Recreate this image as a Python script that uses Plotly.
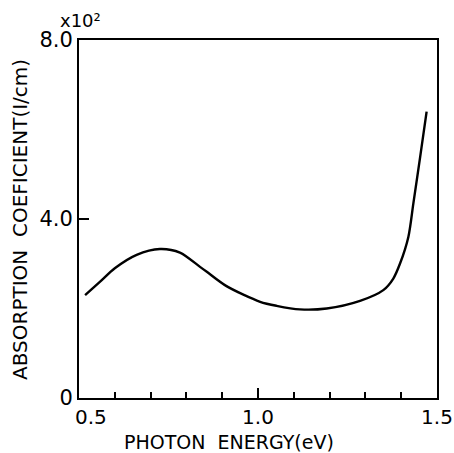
import plotly.graph_objects as go

energy = [0.517, 0.559, 0.600, 0.661, 0.726, 0.782, 0.838, 0.857, 0.912, 1.006, 1.052,
          1.117, 1.192, 1.285, 1.350, 1.378, 1.397, 1.420, 1.434, 1.453, 1.471]
absorption = [2.30, 2.60, 2.90, 3.20, 3.33, 3.25, 2.93, 2.82, 2.50, 2.15, 2.06,
              1.98, 2.00, 2.17, 2.41, 2.67, 3.01, 3.60, 4.35, 5.39, 6.40]
x_ticks = [0.5, 1.0, 1.5]
x_labels = ["0.5", "1.0", "1.5"]
y_ticks = [0, 4, 8]
y_labels = ["0", "4.0", "8.0"]

font = "DejaVu Sans"
L, R, T, B = 79, 437, 40, 398
W, H = 454, 453
fig = go.Figure()
fig.add_trace(go.Scatter(x=energy, y=absorption, mode="lines",
                         line=dict(color="black", width=2.4, shape="spline", smoothing=0.8),
                         showlegend=False, hoverinfo="skip"))


def px(xp):
    return (xp - L) / (R - L)


def py(yp):
    return (B - yp) / (B - T)


# first x label is drawn offset to the right of its tick, as in the original
axis_labels = [""] + x_labels[1:]

fig.update_layout(
    width=W, height=H,
    margin=dict(l=L, r=W - R, t=T, b=H - B, autoexpand=False),
    paper_bgcolor="white", plot_bgcolor="white",
    font=dict(family=font, color="black"),
    xaxis=dict(range=[0.5, 1.5], tickmode="array", tickvals=x_ticks, ticktext=axis_labels,
               ticks="inside", ticklen=10, tickwidth=2, tickcolor="black",
               minor=dict(tickmode="linear", tick0=0.5, dtick=0.1, ticks="inside",
                          ticklen=6, tickwidth=1.5, tickcolor="black", showgrid=False),
               showline=True, linecolor="black", linewidth=2, mirror=True,
               showgrid=False, zeroline=False, automargin=False,
               tickfont=dict(size=20, family=font), fixedrange=True),
    yaxis=dict(range=[0, 8], tickvals=y_ticks, ticktext=y_labels,
               ticks="inside", ticklen=10, tickwidth=2, tickcolor="black",
               showline=True, linecolor="black", linewidth=2, mirror=True,
               showgrid=False, zeroline=False, automargin=False,
               tickfont=dict(size=21, family=font), fixedrange=True),
    annotations=[
        dict(text=x_labels[0], x=x_ticks[0], xref="x", xshift=12, y=py(417), yref="paper",
             showarrow=False, font=dict(size=20, family=font), xanchor="center", yanchor="middle"),
        dict(text="PHOTON  ENERGY(eV)", x=px(229), xref="paper", y=py(442), yref="paper",
             showarrow=False, font=dict(size=19, family=font), xanchor="center", yanchor="middle"),
        dict(text="ABSORPTION  COEFICIENT(I/cm)", textangle=-90, x=px(20), xref="paper",
             y=py(220), yref="paper", showarrow=False, font=dict(size=20, family=font),
             xanchor="center", yanchor="middle"),
        dict(text="x10²", x=px(80), xref="paper", y=py(21), yref="paper",
             showarrow=False, font=dict(size=18, family=font), xanchor="center", yanchor="middle"),
    ],
)
fig.write_html("out.html", config={"displayModeBar": False},
               post_script="document.body.style.margin='0';document.body.style.overflow='hidden';")
